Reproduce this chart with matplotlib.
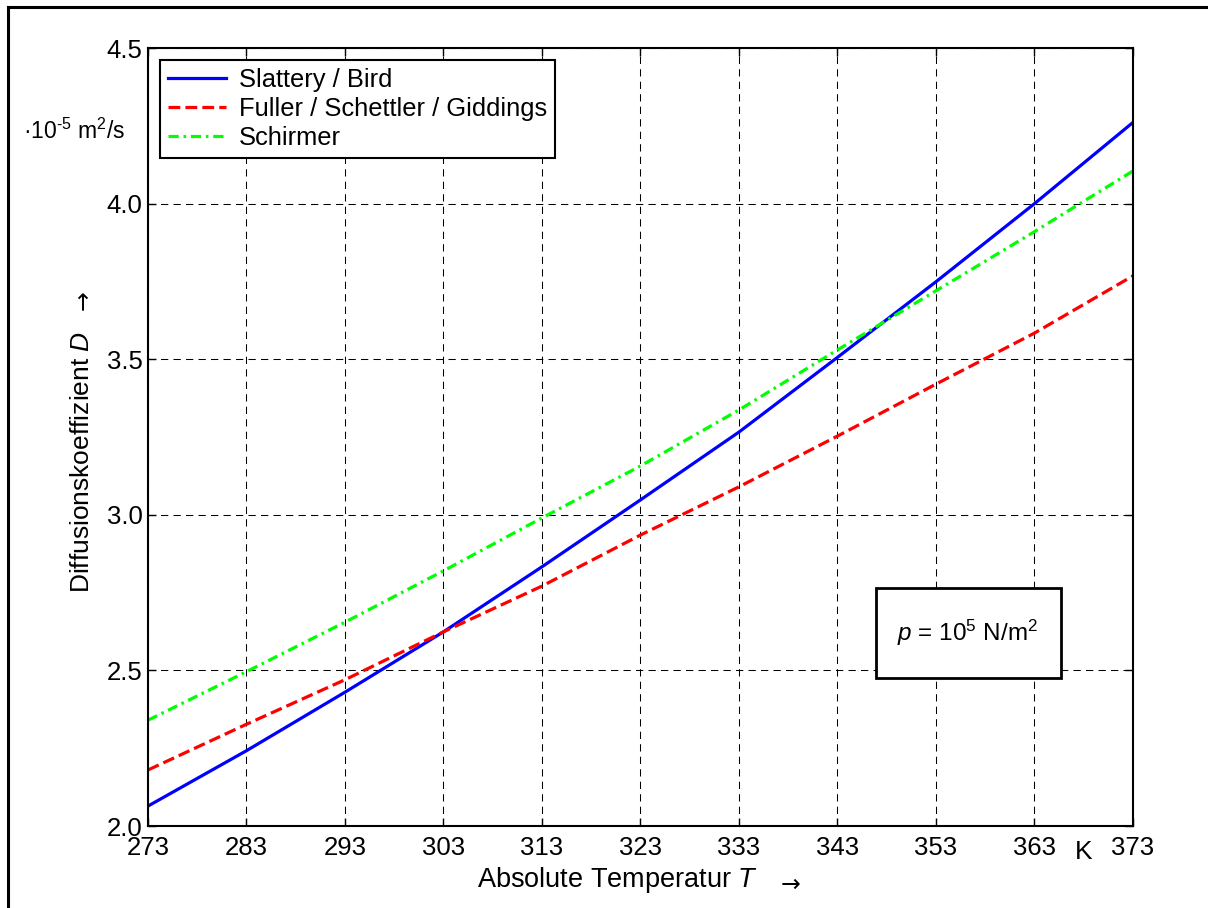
import matplotlib
matplotlib.use("Agg")
import matplotlib.pyplot as plt
from matplotlib.patches import Rectangle
from matplotlib.lines import Line2D

plt.rcParams['font.family'] = ['Liberation Sans', 'DejaVu Sans']
plt.rcParams['mathtext.fontset'] = 'custom'
plt.rcParams['mathtext.rm'] = 'Liberation Sans'
plt.rcParams['mathtext.it'] = 'Liberation Sans:italic'

# data
temps = [273, 283, 293, 303, 313, 323, 333, 343, 353, 363, 373]
slattery_bird = [2.064, 2.242, 2.43, 2.624, 2.833, 3.048, 3.266, 3.506, 3.749, 4.0, 4.261]
fuller = [2.18, 2.327, 2.47, 2.624, 2.771, 2.935, 3.09, 3.253, 3.42, 3.584, 3.768]
schirmer = [2.34, 2.496, 2.655, 2.82, 2.99, 3.157, 3.337, 3.53, 3.72, 3.91, 4.105]

x_ticks = [273, 283, 293, 303, 313, 323, 333, 343, 353, 363, 373]
y_ticks = [2.0, 2.5, 3.0, 3.5, 4.0, 4.5]
labels = ["Slattery / Bird", "Fuller / Schettler / Giddings", "Schirmer"]

fig = plt.figure(figsize=(12.08, 9.08), dpi=100)
ax = fig.add_axes([0.1225, 0.0903, 0.8154, 0.8568])

ax.plot(temps, slattery_bird, color='#0000ff', lw=2.3, label=labels[0])
ax.plot(temps, fuller, color='#ff0000', lw=2.3, linestyle=(0, (3.7, 1.6)), label=labels[1])
ax.plot(temps, schirmer, color='#00ff00', lw=2.3, linestyle=(0, (3.2, 1.5, 0.8, 1.5)), label=labels[2])

ax.set_xlim(273, 373)
ax.set_ylim(2.0, 4.5)
ax.set_xticks(x_ticks)
ax.set_yticks(y_ticks)
ax.set_yticklabels([f"{v:.1f}" for v in y_ticks])
ax.tick_params(direction='in', top=True, right=True, length=6, width=1, labelsize=18.5)
ax.tick_params(axis='x', pad=7)
ax.tick_params(axis='y', pad=4)
ax.grid(True, color='black', linestyle=(0, (7, 5)), linewidth=0.75)
for s in ax.spines.values():
    s.set_linewidth(1.5)

leg = ax.legend(loc='upper left', bbox_to_anchor=(0.0122, 0.9846), borderaxespad=0,
                fontsize=18.4, fancybox=False, framealpha=1, edgecolor='black',
                handlelength=2.3, handletextpad=0.5, labelspacing=0.2, borderpad=0.3)
leg.get_frame().set_linewidth(1.5)

# pressure box
ax.add_patch(Rectangle((0.7386, 0.1902), 0.1887, 0.1157, transform=ax.transAxes,
                       facecolor='white', edgecolor='black', lw=2, zorder=5))
ax.text(0.832, 0.248, r'$p$ = 10$^5$ N/m$^2$', transform=ax.transAxes,
        ha='center', va='center', fontsize=17.5, zorder=6)

# axis labels
fig.text(82/1208, 1 - 462/908, 'Diffusionskoeffizient $D$', rotation=90,
         ha='center', va='center', fontsize=19)
fig.text(84/1208, 1 - 300/908, '\u2192', rotation=90, ha='center', va='center',
         fontsize=17, family='DejaVu Sans')
fig.text(125/1208, 1 - 131/908, '\u00b710$^{\u20105}$ m$^2$/s', ha='right', va='center', fontsize=16.5)
fig.text(617/1208, 1 - 880/908, 'Absolute Temperatur $T$',
         ha='center', va='center', fontsize=19.5)
fig.text(791/1208, 1 - 885/908, '\u2192', ha='center', va='center',
         fontsize=17, family='DejaVu Sans')
ax.text(368, -0.018, 'K', ha='center', va='top', fontsize=19,
        transform=ax.get_xaxis_transform(), zorder=6)

# outer frame (top and left only)
fig.add_artist(Line2D([8/1208, 1], [1 - 7/908, 1 - 7/908], color='black', lw=2.2,
                      transform=fig.transFigure))
fig.add_artist(Line2D([8/1208, 8/1208], [0, 1 - 7/908], color='black', lw=2.2,
                      transform=fig.transFigure))

fig.savefig("out.png", dpi=100)
